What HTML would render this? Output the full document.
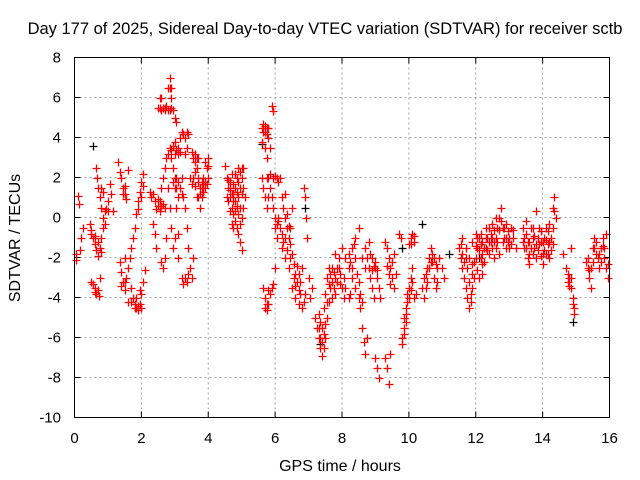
<!DOCTYPE html>
<html><head><meta charset="utf-8">
<style>
html,body{margin:0;padding:0;background:#fff;}
svg{display:block;font-family:"Liberation Sans",sans-serif;}
</style></head>
<body>
<svg id="chart" width="640" height="480">
<text x="325" y="34" font-size="16.5" text-anchor="middle" fill="#000">Day 177 of 2025, Sidereal Day-to-day VTEC variation (SDTVAR) for receiver sctb</text>
<text x="340" y="471" font-size="16" text-anchor="middle">GPS time / hours</text>
<text transform="translate(20,238) rotate(-90)" font-size="16" text-anchor="middle">SDTVAR / TECUs</text>
<g id="grid"></g><g id="ticks"></g><g id="marks"></g>
<rect x="74.5" y="57.5" width="535" height="360" fill="none" stroke="#000" stroke-width="1"/>
</svg>
<script>
const xTicks=[0,2,4,6,8,10,12,14,16];
const yTicks=[8,6,4,2,0,-2,-4,-6,-8,-10];
const redPts=[[0.05,-1.8],[0.05,-2.1],[0.1,1.1],[0.12,0.7],[0.15,-1.6],[0.2,-1.0],[0.25,-0.5],
[0.45,-0.3],[0.5,-0.6],[0.55,-1],[0.6,-1.3],[0.65,-1.6],[0.7,-1.9],[0.75,-1.5],[0.8,-1.0],[0.85,-0.5],[0.5,-3.2],[0.55,-3.3],[0.6,-3.5],[0.65,-3.8],[0.7,-3.6],[0.75,-3.0],[0.65,2.5],[0.68,2.0],[0.7,1.5],[0.75,1.0],[0.8,0.5],[0.85,0.0],[0.9,-0.3],[0.95,0.4],[1.0,0.8],[1.05,1.7],[1.1,1.2],[1.15,0.3],[0.85,1.3],
[1.3,2.8],[1.35,2.3],[1.4,2.0],[1.45,1.5],[1.5,1.2],[1.55,0.9],[1.6,2.4],[1.35,-2.2],[1.4,-2.7],[1.45,-3.2],[1.5,-3.6],[1.55,-3.0],[1.6,-2.5],[1.65,-2.0],[1.7,-1.5],[1.75,-1.0],[1.8,-0.5],[1.85,0.2],[1.9,0.8],[1.95,1.3],[2.0,1.8],[2.05,2.2],[1.7,-3.5],[1.75,-4.0],[1.8,-4.3],[1.85,-4.5],[1.9,-4.6],[1.95,-4.3],[2.0,-3.8],[2.05,-3.2],[2.1,-2.6],[1.6,-4.2],[1.5,-2.0],
[2.25,1.3],[2.3,1.0],[2.35,-0.3],[2.4,-0.8],[2.45,-1.5],[2.4,0.8],[2.5,0.6],[2.55,0.3],[2.6,1.5],[2.65,2.0],[2.7,2.5],[2.6,-2.2],[2.65,-2.5],[2.7,-2.0],[2.75,-1.0],[2.5,5.5],[2.55,6.0],[2.6,5.4],[2.65,5.5],[2.7,5.5],[2.75,5.6],[2.8,6.5],[2.85,7.0],[2.9,6.0],[2.95,5.4],[3.0,5.0],[3.05,4.8],[2.8,3.2],[2.85,3.5],[2.9,3.0],[2.95,2.5],[3.0,2.0],[3.05,1.5],[3.1,1.0],[2.75,3.0],[2.8,1.5],[2.85,0.5],[2.9,-0.5],[3.0,-1.0],[3.1,-2.0],[3.2,-3.0],[3.25,-3.3],[3.0,3.8],[3.1,3.5],[3.15,4.0],[3.2,4.3],[3.3,4.0],[3.35,3.5],[3.2,2.0],[3.25,1.0],[3.3,0.5],[3.35,-0.5],[3.4,-1.5],[3.45,-2.5],[3.5,-3.0],[3.55,-2.0],[3.5,3.3],[3.55,3.0],[3.6,3.2],[3.65,2.5],[3.7,1.8],[3.75,1.5],[3.8,1.5],[3.85,1.3],[3.9,1.8],[3.95,2.5],[4.0,2.6],[3.6,1.6],[3.65,1.0],[3.75,0.5],[3.85,2.0],[3.95,1.7],[4.0,3.0],[3.5,1.7],[3.45,2.0],[3.1,-0.8],[3.05,0.5],[2.95,-1.5],
[4.5,2.6],[4.55,2.0],[4.6,1.5],[4.65,1.0],[4.7,0.5],[4.75,0.2],[4.8,-0.2],[4.85,-0.5],[4.9,-0.8],[4.95,-1.2],[5.0,-1.6],[4.6,0.8],[4.65,1.8],[4.7,2.2],[4.75,1.2],[4.8,0.8],[4.85,2.0],[4.9,2.5],[4.95,2.3],[5.0,2.0],[5.05,1.5],[5.1,1.0],[4.8,1.5],[4.9,1.0],[4.95,0.5],[5.0,0.0],[4.55,1.0],[4.7,-0.3],[4.75,1.7],[5.05,2.5],
[5.6,4.5],[5.65,4.7],[5.7,4.3],[5.75,4.5],[5.8,4.0],[5.85,3.5],[5.9,5.6],[5.95,5.3],[5.7,3.5],[5.75,3.0],[5.8,2.0],[5.85,1.5],[5.9,1.0],[5.95,0.5],[6.0,0.0],[5.65,1.5],[5.7,1.0],[5.75,0.5],[5.6,2.0],[5.65,-3.5],[5.7,-4.0],[5.75,-4.6],[5.8,-4.3],[5.85,-3.8],[5.9,-3.5],[5.95,-3.3],[6.0,-2.5],[6.05,-1.0],[5.95,2.0],[6.0,2.1],[6.05,2.0],[6.1,1.8],[6.15,2.0],[6.0,-0.5],[6.05,-0.3],[6.1,0.0],[6.15,-0.5],
[6.2,1.0],[6.25,0.5],[6.3,0.0],[6.35,-0.5],[6.4,-1.0],[6.45,-1.3],[6.5,-1.8],[6.55,-2.3],[6.6,-2.8],[6.65,-3.2],[6.7,-3.6],[6.75,-3.2],[6.8,-2.5],[6.2,-1.5],[6.3,-2.0],[6.4,-2.5],[6.45,-0.5],[6.5,0.5],[6.3,1.2],[6.35,0.2],[6.85,1.5],[6.9,1.0],[6.92,0.0],[6.95,-1.0],[6.5,-3.5],[6.6,-4.0],[6.7,-4.3],[6.8,-4.5],[6.9,-3.8],[7.0,-3.0],[7.05,-4.0],[7.1,-3.5],
[7.2,-5.0],[7.25,-5.5],[7.3,-6.0],[7.35,-6.5],[7.4,-6.9],[7.45,-6.5],[7.5,-6.0],[7.55,-5.0],[7.3,-4.8],[7.35,-5.2],[7.4,-5.5],[7.45,-4.5],[7.5,-3.8],[7.55,-3.0],[7.6,-2.5],[7.65,-3.5],[7.7,-4.0],[7.75,-3.5],[7.8,-3.0],[7.85,-2.5],[7.9,-2.0],[7.95,-2.8],[8.0,-3.5],[8.05,-4.0],[7.6,-4.2],[7.7,-2.5],[7.8,-1.8],[8.0,-1.5],
[8.1,-2.0],[8.2,-2.5],[8.3,-1.5],[8.4,-1.0],[8.5,-0.5],[8.3,-3.0],[8.4,-3.5],[8.5,-4.0],[8.55,-4.5],[8.6,-5.5],[8.65,-6.2],[8.7,-6.8],[8.75,-6.0],[8.6,-2.0],[8.7,-1.5],[8.8,-2.5],[8.85,-3.0],[8.9,-3.5],[8.95,-4.0],[8.8,-1.2],[8.9,-2.0],[9.0,-2.5],[9.05,-3.0],[9.1,-3.5],[9.15,-4.0],[9.0,-7.0],[9.05,-7.5],[9.1,-8.0],[9.3,-7.0],[9.35,-7.5],[9.4,-8.3],[9.45,-6.8],[9.3,-1.2],[9.35,-1.5],[9.4,-2.0],[9.45,-2.5],[9.5,-3.0],[9.55,-3.5],[9.6,-2.8],[9.7,-0.8],[9.75,-1.0],[8.2,-4.0],[8.25,-3.8],
[9.8,-6.0],[9.85,-5.5],[9.9,-4.8],[9.95,-4.2],[10.0,-3.5],[10.05,-3.0],[10.1,-2.5],[10.15,-4.0],[10.2,-3.8],[10.0,-1.3],[10.05,-1.0],[10.1,-0.8],[10.15,-1.2],[9.8,-6.3],[9.85,-5.8],[9.9,-5.2],[10.4,-3.5],[10.45,-4.0],[10.5,-3.5],[10.55,-2.5],[10.6,-2.0],[10.65,-1.5],[10.7,-2.2],[10.75,-3.0],[10.8,-3.5],[10.85,-2.5],[10.9,-2.0],[11.0,-2.5],[11.05,-3.0],
[11.5,-1.5],[11.55,-2.0],[11.6,-2.5],[11.65,-3.0],[11.7,-3.5],[11.75,-4.0],[11.8,-4.5],[11.85,-4.2],[11.9,-3.5],[11.95,-3.0],[11.6,-1.0],[11.7,-1.5],[11.8,-2.0],[11.9,-2.3],[12.0,-2.0],[12.05,-1.5],[12.1,-1.0],[12.15,-1.3],[12.2,-1.8],[12.25,-2.2],[12.3,-1.5],[12.35,-1.0],[12.4,-0.5],[12.45,-1.2],[12.5,-1.5],[12.55,-2.0],[12.6,-1.0],[12.65,-0.5],[12.7,0.0],[12.75,0.5],[12.8,-0.5],[12.85,-1.0],[12.9,-1.5],[12.95,-1.2],[13.0,-1.0],[13.05,-0.5],[13.1,-1.0],[13.2,-1.5],[12.1,-3.0],[12.2,-2.8],[11.9,-1.2],[12.0,-0.8],[12.3,-0.5],[12.5,-0.3],[12.7,-1.8],[12.9,-0.3],
[13.4,-0.5],[13.45,-1.0],[13.5,-1.5],[13.55,-2.0],[13.6,-1.2],[13.65,-0.5],[13.7,-1.0],[13.75,-1.5],[13.8,-2.0],[13.85,-1.0],[13.9,-0.5],[13.95,-1.2],[14.0,-1.8],[14.05,-1.0],[14.1,-0.5],[14.15,-1.3],[14.2,-2.0],[14.25,-1.0],[14.3,0.5],[14.35,1.0],[14.4,0.0],[13.6,-2.3],[13.8,0.3],[14.0,-2.3],[14.2,-0.3],[13.5,-0.2],[14.1,-1.8],
[14.6,-1.8],[14.7,-2.5],[14.75,-2.8],[14.8,-3.0],[14.85,-3.5],[14.9,-4.0],[14.95,-4.5],[14.85,-1.5],
[15.3,-2.2],[15.35,-2.5],[15.4,-3.0],[15.45,-2.5],[15.5,-1.5],[15.55,-1.0],[15.6,-1.2],[15.65,-2.0],[15.7,-2.5],[15.75,-1.5],[15.8,-1.0],[15.85,-1.5],[15.9,-2.5],[15.95,-3.0],[15.9,-0.8],[15.45,-3.5]];
const redPtsExtra=[[0.5,-0.8],[0.6,-0.9],[0.7,-1.2],[0.8,-1.7],[0.62,-3.7],[0.72,-3.9],[0.78,1.5],[0.9,0.3],[1.0,0.3],[1.45,1.2],[1.52,1.6],[1.4,-3.4],[1.5,-3.2],[1.8,-4.5],[1.9,-4.4],[2.0,-4.5],[1.85,-4.0],[1.95,-3.6],[1.7,-4.2],[1.9,0.4],[2.0,1.0],[2.05,1.6],
[2.35,1.2],[2.45,0.4],[2.5,0.9],[2.55,0.8],[2.6,0.6],[2.65,0.7],[2.7,0.5],[2.55,5.5],[2.6,6.0],[2.7,5.4],[2.8,5.4],[2.85,5.4],[2.9,5.5],[2.85,6.5],[2.9,6.5],[2.9,3.4],[2.95,3.6],[3.0,3.2],[3.05,3.4],[3.1,3.2],[2.95,1.8],[3.0,1.5],[3.05,2.0],[3.1,1.8],[3.15,1.5],[3.2,1.2],[3.15,3.3],[3.25,4.2],[3.3,3.2],[3.35,4.3],[3.4,4.2],[3.3,-3.0],[3.35,-3.2],[3.4,-2.8],
[3.55,2.0],[3.6,2.3],[3.7,2.0],[3.75,1.2],[3.8,1.8],[3.85,1.7],[3.9,1.5],[3.7,1.0],[3.8,1.0],[3.9,2.8],[4.0,2.0],[3.6,2.8],[3.65,3.0],[3.7,3.0],
[4.6,1.9],[4.65,1.4],[4.7,1.2],[4.75,0.8],[4.8,0.3],[4.85,0.6],[4.9,0.2],[4.95,1.5],[5.0,1.2],[5.05,0.5],[5.0,2.5],[4.85,1.3],[4.8,2.2],[4.95,-0.3],[4.9,1.8],[4.75,-0.5],[4.65,0.3],
[5.65,4.3],[5.7,4.6],[5.75,4.2],[5.8,4.5],[5.6,3.8],[5.75,2.0],[5.8,1.0],[5.85,2.2],[5.75,-4.3],[5.7,-4.5],[5.8,-3.6],[6.1,-0.2],[6.2,-0.8],[6.25,-1.2],[6.3,-1.0],[6.35,-1.6],[6.4,-0.4],[6.45,-2.0],[6.55,-3.0],[6.6,-3.4],[6.65,-2.4],[6.7,-2.8],[6.75,-3.8],[6.85,-4.2],
[7.3,-5.5],[7.35,-6.0],[7.4,-6.2],[7.45,-5.8],[7.5,-5.3],[7.55,-4.2],[7.6,-3.3],[7.65,-2.8],[7.7,-3.2],[7.75,-2.7],[7.8,-3.8],[7.85,-3.2],[7.9,-2.5],[7.95,-3.3],[8.05,-3.0],[8.1,-3.5],
[8.2,-1.8],[8.25,-2.2],[8.35,-1.3],[8.3,-2.5],[8.4,-2.0],[8.45,-2.8],[8.5,-3.2],[8.55,-3.8],[8.6,-4.2],[8.7,-2.5],[8.75,-2.0],[8.85,-1.8],[8.9,-2.6],[8.95,-2.4],[9.0,-2.2],[9.05,-2.6],[9.35,-2.4],[9.4,-2.8],[9.45,-3.3],[9.5,-2.2],[9.55,-1.8],
[9.85,-5.0],[9.9,-4.5],[9.95,-3.8],[10.0,-4.0],[10.05,-3.6],[10.1,-3.2],[10.05,-1.3],[10.15,-0.9],[10.45,-3.0],[10.5,-2.8],[10.55,-3.2],[10.6,-2.5],[10.65,-2.2],[10.7,-1.8],[10.75,-2.0],[10.8,-2.3],[10.85,-3.2],
[11.55,-1.3],[11.6,-1.8],[11.65,-2.2],[11.7,-2.0],[11.75,-2.5],[11.8,-3.2],[11.85,-3.8],[11.9,-2.8],[11.95,-2.2],[12.0,-1.4],[12.05,-1.0],[12.1,-1.6],[12.15,-0.8],[12.2,-1.2],[12.25,-1.5],[12.3,-1.0],[12.35,-1.6],[12.4,-1.2],[12.45,-0.8],[12.5,-1.0],[12.55,-1.2],[12.6,-1.5],[12.65,-1.2],[12.7,-0.6],[12.75,-0.2],[12.8,-1.2],[12.85,-0.5],[12.9,-1.0],[12.95,-0.7],[13.0,-1.5],[13.05,-1.3],[13.1,-0.6],[12.6,0.0],[12.55,-0.6],[12.4,-1.8],[12.2,-2.3],[12.05,-2.6],[12.15,-2.0],
[13.4,-1.2],[13.45,-1.5],[13.5,-0.8],[13.55,-1.2],[13.6,-1.8],[13.65,-1.5],[13.7,-0.5],[13.75,-0.9],[13.8,-1.3],[13.85,-1.6],[13.9,-1.3],[13.95,-0.7],[14.0,-1.2],[14.05,-1.6],[14.1,-1.1],[14.15,-0.7],[14.2,-1.2],[14.25,-1.6],[14.3,-0.5],[14.35,0.3],[14.3,-1.3],[14.15,-1.8],[13.95,-1.9],[13.7,-1.8],
[14.75,-3.2],[14.8,-3.4],[14.85,-3.0],[14.9,-4.3],[14.95,-4.8],[15.35,-2.0],[15.4,-2.6],[15.5,-2.2],[15.55,-1.5],[15.6,-1.8],[15.7,-1.8],[15.75,-2.2],[15.8,-1.4],[15.85,-2.0],[15.95,-2.3]];
const blackPts=[[0.55,3.6],[10.4,-0.3],[7.35,-6.3],[12.1,-2.0],[9.8,-1.5],[11.2,-1.8],[14.9,-5.2],[5.6,3.7],[6.9,0.5]];
const NS='http://www.w3.org/2000/svg';
const X0=74.5,X1=609.5,Y0=417.5,Y1=57.5;
function xs(t){return X0+(t-0)/(16-0)*(X1-X0);}
function ys(v){return Y0-(v-(-10))/(8-(-10))*(Y0-Y1);}
function mk(tag,attrs,parent){const e=document.createElementNS(NS,tag);for(const k in attrs)e.setAttribute(k,attrs[k]);parent.appendChild(e);return e;}
const grid=document.getElementById('grid'),ticks=document.getElementById('ticks'),marks=document.getElementById('marks');
xTicks.forEach(t=>{const x=xs(t);
 if(t>0&&t<16){const g=mk('line',{x1:x,x2:x,y1:Y1,y2:Y0,stroke:'#a0a0a0','stroke-dasharray':'2,3','stroke-width':1},grid);
 
 }
 mk('line',{x1:x,x2:x,y1:Y0,y2:Y0-6,stroke:'#000'},ticks);mk('line',{x1:x,x2:x,y1:Y1,y2:Y1+6,stroke:'#000'},ticks);
 const l=mk('text',{x:x,y:443,'font-size':15,'text-anchor':'middle'},ticks);l.textContent=t;
 
 });
yTicks.forEach(v=>{const y=ys(v);
 if(v>-10&&v<8){const g=mk('line',{x1:X0,x2:X1,y1:y,y2:y,stroke:'#a0a0a0','stroke-dasharray':'2,3','stroke-width':1},grid);
 
 }
 mk('line',{x1:X0,x2:X0+6,y1:y,y2:y,stroke:'#000'},ticks);mk('line',{x1:X1,x2:X1-6,y1:y,y2:y,stroke:'#000'},ticks);
 const l=mk('text',{x:61,y:y+5,'font-size':15,'text-anchor':'end'},ticks);l.textContent=v;
 
 });
function plus(p,color,name){const x=Math.round(xs(p[0]))+0.5,y=Math.round(ys(p[1]))+0.5;
 const e=mk('path',{d:`M${x-4} ${y}H${x+4}M${x} ${y-4}V${y+4}`,stroke:color,'stroke-width':1.3,fill:'none'},marks);
 
 }
blackPts.forEach(p=>plus(p,'#000','black-point'));
redPts.forEach(p=>plus(p,'#ff0000','red-point'));
redPtsExtra.forEach(p=>plus(p,'#ff0000','red-point'));
</script>
</body></html>
